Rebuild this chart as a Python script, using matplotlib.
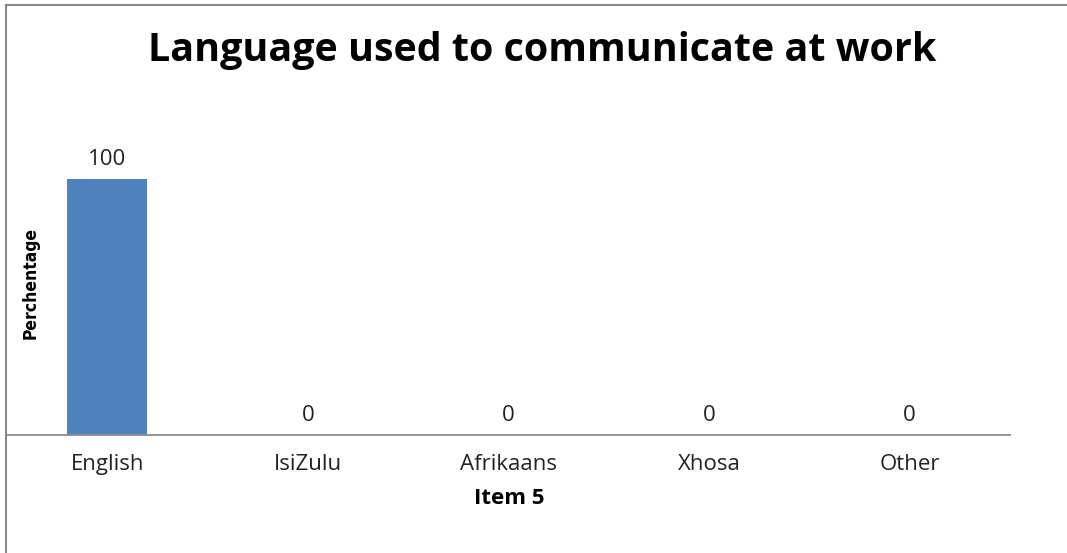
import matplotlib
matplotlib.use("Agg")
import matplotlib.pyplot as plt
from matplotlib.lines import Line2D

categories = ["English", "IsiZulu", "Afrikaans", "Xhosa", "Other"]
values = [100, 0, 0, 0, 0]
title = "Language used to communicate at work"
xlabel = "Item 5"
ylabel = "Perchentage"

W, H = 1067, 553
fig = plt.figure(figsize=(W / 100, H / 100), dpi=100)
fig.patch.set_facecolor("white")

def px(x0, y0, x1, y1):
    return [x0 / W, 1 - y1 / H, (x1 - x0) / W, (y1 - y0) / H]

ax = fig.add_axes(px(7, 179, 1010, 435))
x = range(len(categories))
ax.bar(x, values, width=0.4, color="#4F81BD", zorder=2)
ax.set_xlim(-0.5, len(categories) - 0.5)
ax.set_ylim(0, 100)
for s in ["top", "right", "left"]:
    ax.spines[s].set_visible(False)
ax.spines["bottom"].set_color("#8C8C8C")
ax.spines["bottom"].set_linewidth(1.3)
ax.set_yticks([])
ax.set_xticks(list(x))
ax.set_xticklabels(categories, fontsize=16, family="Open Sans", color="#222222")
ax.tick_params(axis="x", length=0, pad=13.5)

for i, v in enumerate(values):
    ax.annotate(f"{v}", (i, v), xytext=(0, 6.5), textcoords="offset points",
                ha="center", va="bottom", fontsize=16, family="Open Sans",
                color="#222222")

fig.text(509 / W, 1 - 498 / H, xlabel, ha="center", va="center",
         fontsize=16, fontweight="bold", family="Open Sans")
fig.text(31 / W, 1 - 283 / H, ylabel, ha="center", va="center", rotation=90,
         fontsize=12.5, fontweight="bold", fontstretch="condensed",
         family=["DejaVu Sans"])
fig.text(542 / W, 1 - 50 / H, title, ha="center", va="center",
         fontsize=28.4, fontweight="bold", family="Open Sans")

# chart border (left and top)
fig.add_artist(Line2D([6 / W, 6 / W], [0, 1 - 5 / H], transform=fig.transFigure,
                      color="#888888", lw=1.5))
fig.add_artist(Line2D([6 / W, 1], [1 - 5 / H, 1 - 5 / H], transform=fig.transFigure,
                      color="#888888", lw=1.5))

fig.savefig("out.png", dpi=100)
